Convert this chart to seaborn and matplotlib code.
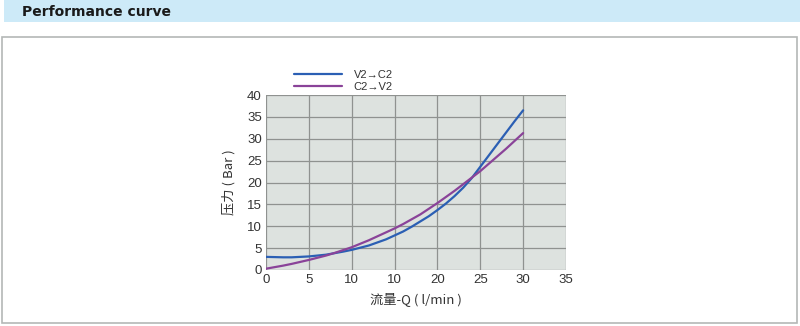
import matplotlib
matplotlib.use("Agg")
import matplotlib.pyplot as plt
import seaborn as sns
import pandas as pd
from matplotlib.patches import Rectangle
from matplotlib.lines import Line2D

flow = list(range(0, 31))
v2_c2 = [3.0, 2.95, 2.9, 2.9, 3.0, 3.1, 3.3, 3.5, 3.85, 4.2, 4.6, 5.1, 5.6, 6.3,
         7.0, 7.9, 8.8, 9.9, 11.1, 12.3, 13.7, 15.2, 16.9, 18.8, 21.0, 23.6,
         26.2, 28.8, 31.4, 34.0, 36.5]
c2_v2 = [0.3, 0.65, 1.0, 1.4, 1.85, 2.3, 2.8, 3.3, 3.9, 4.55, 5.2, 6.0, 6.8, 7.7,
         8.6, 9.5, 10.5, 11.6, 12.7, 14.0, 15.3, 16.7, 18.1, 19.6, 21.1, 22.6,
         24.3, 26.0, 27.7, 29.5, 31.3]
series_names = ["V2→C2", "C2→V2"]
x_ticks = [0, 5, 10, 15, 20, 25, 30, 35]
x_tick_labels = ["0", "5", "10", "10", "20", "25", "30", "35"]
y_ticks = [0, 5, 10, 15, 20, 25, 30, 35, 40]

df = pd.DataFrame({
    "Q": flow * 2,
    "P": v2_c2 + c2_v2,
    "series": [series_names[0]] * len(flow) + [series_names[1]] * len(flow),
})

sns.set_theme(style="white")
plt.rcParams["font.family"] = ["Liberation Sans", "Noto Sans CJK SC", "DejaVu Sans"]

fig = plt.figure(figsize=(8, 3.26), dpi=100)
fig.patch.set_facecolor("white")

# banner and frame
fig.patches.append(Rectangle((4 / 800, 1 - 22 / 326), 796 / 800, 22 / 326,
                             transform=fig.transFigure, facecolor="#cdeaf8",
                             edgecolor="none", zorder=-5))
fig.patches.append(Rectangle((2 / 800, 3 / 326), 795 / 800, 286 / 326,
                             transform=fig.transFigure, facecolor="white",
                             edgecolor="#b4b8b6", linewidth=1.2, zorder=-5))
fig.text(22 / 800, 1 - 12 / 326, "Performance curve", fontsize=10,
         fontweight="bold", va="center", ha="left", color="#1a1a1a",
         family=["DejaVu Sans"])

ax = fig.add_axes([266 / 800, 56 / 326, 300 / 800, 175 / 326])
ax.set_zorder(2)
ax.set_facecolor("#dde2df")

palette = {series_names[0]: "#2b5fb4", series_names[1]: "#8a4399"}
sns.lineplot(data=df, x="Q", y="P", hue="series", palette=palette,
             linewidth=1.6, ax=ax, legend=False, zorder=3)

ax.set_xlim(0, 35)
ax.set_ylim(0, 40)
ax.set_xticks(x_ticks)
ax.set_xticklabels(x_tick_labels)
ax.set_yticks(y_ticks)
ax.grid(True, color="#8f9290", linewidth=0.9)
for s in ax.spines.values():
    s.set_visible(False)
ax.tick_params(axis="both", length=0, labelsize=9.5, colors="#333333", pad=3)

ax.set_xlabel("流量-Q ( l/min )", fontsize=9.5, color="#333333", labelpad=4,
              family=["Noto Sans CJK SC", "DejaVu Sans"])
ax.set_ylabel("压力 ( Bar )", fontsize=9.5, color="#333333", labelpad=8,
              family=["Noto Sans CJK SC", "DejaVu Sans"])

# legend above the axes
handles = [Line2D([], [], color=palette[n], linewidth=1.6) for n in series_names]
leg = fig.legend(handles, series_names, loc="upper left",
                 bbox_to_anchor=(288 / 800, 1 - 64 / 326),
                 frameon=False, fontsize=8, handlelength=4.4,
                 handletextpad=1.0, labelspacing=0.25, borderpad=0)
leg.set_zorder(3)
for t in leg.get_texts():
    t.set_color("#333333")

fig.savefig("out.png", dpi=100)
